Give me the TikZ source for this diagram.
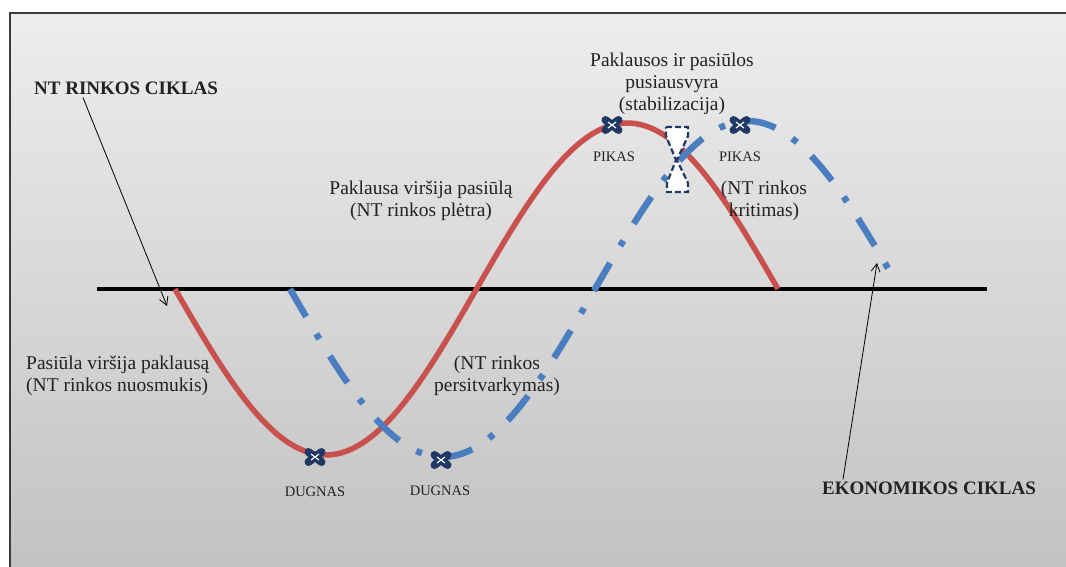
\documentclass[tikz,border=0pt]{standalone}
\usepackage{fontspec}
\setmainfont{Liberation Serif}
\usetikzlibrary{arrows.meta}
\definecolor{framegray}{HTML}{3C3C3C}
\definecolor{topgray}{HTML}{EDEDED}
\definecolor{botgray}{HTML}{C2C2C2}
\definecolor{redcurve}{HTML}{C8504D}
\definecolor{bluecurve}{HTML}{4A7EC0}
\definecolor{navy}{HTML}{1F3864}
\definecolor{txt}{HTML}{222222}
\tikzset{
  lbl/.style={text=txt, font=\fontsize{19.5}{22}\selectfont, inner sep=0pt, align=center},
  lblleft/.style={lbl, align=left, anchor=west},
  title/.style={text=txt, font=\fontsize{19}{22}\selectfont\bfseries, inner sep=0pt},
  tag/.style={text=txt, font=\fontsize{14.5}{16}\selectfont, inner sep=0pt},
  pointer/.style={draw=black, line width=0.8pt, -{Straight Barb[length=8pt,width=9pt]}},
  redline/.style={draw=redcurve, line width=5.5pt},
  blueline/.style={draw=bluecurve, line width=6.5pt, dash pattern=on 32pt off 20pt on 6pt off 20pt},
  xmark/.pic={
    \draw[navy, line width=8pt, line cap=round] (-6.5,-5) -- (6.5,5) (-6.5,5) -- (6.5,-5);
    \draw[white, line width=1.1pt] (-4,-3) -- (4,3) (-4,3) -- (4,-3);
  }
}
\begin{document}
\begin{tikzpicture}[x=1pt,y=-1pt]
  \useasboundingbox (0,0) rectangle (1066,566);
  \fill[white] (0,0) rectangle (1066,566);
  % framed panel with a vertical grey gradient
  \shade[top color=topgray, bottom color=botgray] (10,13) rectangle (1070,570);
  \draw[framegray, line width=2pt] (10,572) -- (10,13) -- (1070,13);

  % horizontal axis
  \draw[black, line width=4pt] (97,289) coordinate (axl) -- (987,289) coordinate (axr);

  % property market cycle (solid red)
  \draw[redline] plot[domain=175:778, samples=120, smooth]
    (\x,{289+166*sin((\x-175)/301.5*180)});

  % economic cycle (dash-dot blue)
  \draw[blueline] plot[domain=290:890, samples=120, smooth]
    (\x,{289+168*sin((\x-290)/305*180)});

  % peaks and troughs
  \pic at (315,457) {xmark};
  \pic at (441,460) {xmark};
  \pic at (612,125) {xmark};
  \pic at (740,125) {xmark};

  % equilibrium marker
  \draw[navy, line width=2.2pt, dash pattern=on 6pt off 3pt, fill=white]
    (666,127) -- (688,127) -- (688,136) -- (677,160) -- (688,183) -- (688,192)
    -- (667,192) -- (667,183) -- (676,160) -- (666,136) -- cycle;

  % labels
  \node[title] (nt) at (126,88) {NT RINKOS CIKLAS};
  \node[title] (eko) at (929,488) {EKONOMIKOS CIKLAS};
  \coordinate (nttip) at (167,306);
  \coordinate (ekotip) at (877,263);
  \draw[pointer] ([xshift=-43pt,yshift=-3pt]nt.south) -- (nttip);
  \draw[pointer] ([xshift=-86pt,yshift=2pt]eko.north) -- (ekotip);

  \node[lbl] (equil) at (672,84) {Paklausos ir pasiūlos\\pusiausvyra\\(stabilizacija)};
  \node[lbl] (growth) at (421,201) {Paklausa viršija pasiūlą\\(NT rinkos plėtra)};
  \node[lbl] (fall) at (764,201) {(NT rinkos\\kritimas)};
  \node[lblleft] (decline) at (26,376) {Pasiūla viršija paklausą\\(NT rinkos nuosmukis)};
  \node[lbl] (restr) at (497,376) {(NT rinkos\\persitvarkymas)};

  \node[tag] (pik1) at (614,157) {PIKAS};
  \node[tag] (pik2) at (740,157) {PIKAS};
  \node[tag] (dug1) at (315,492) {DUGNAS};
  \node[tag] (dug2) at (440,491) {DUGNAS};
\end{tikzpicture}
\end{document}
